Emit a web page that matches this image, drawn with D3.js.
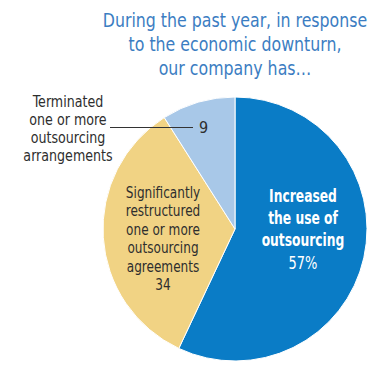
<!DOCTYPE html>
<html>
<head>
<meta charset="utf-8">
<script src="https://cdn.jsdelivr.net/npm/d3@7"></script>
<style>
  body { margin: 0; background: #fff; }
  svg text { font-family: "DejaVu Sans Condensed", "Liberation Sans Narrow", sans-serif; }
</style>
</head>
<body>
<div id="chart"></div>
<script>
// data
var categories = ["Increased the use of outsourcing", "Significantly restructured one or more outsourcing agreements", "Terminated one or more outsourcing arrangements"];
var values = [57, 34, 9];
var colors = ["#0a7cc6", "#f1d384", "#a8c8e8"];
var titleLines = ["During the past year, in response", "to the economic downturn,", "our company has\u2026"];

var width = 382, height = 366;
var cx = 235, cy = 229, radius = 132;

var svg = d3.select("#chart").append("svg")
    .attr("width", width)
    .attr("height", height);

// stacked centred lines, squeezed sideways to look like the condensed face
function textBlock(parent, lines, x, y0, dy, size, sx, fill, weight) {
    var blk = parent.append("g")
        .attr("transform", "translate(" + x + "," + y0 + ") scale(" + sx + ",1)");
    blk.selectAll("text")
        .data(lines)
        .enter().append("text")
        .attr("x", 0)
        .attr("y", function(d, i) { return i * dy; })
        .attr("text-anchor", "middle")
        .attr("fill", fill)
        .style("font-size", size + "px")
        .style("font-weight", weight || "normal")
        .text(function(d) { return d; });
    return blk;
}

// title
textBlock(svg, titleLines, 235, 27, 24, 19.5, 0.9, "#3b7dc2");

var pie = d3.pie().sort(null).value(function(d) { return d; });
var arc = d3.arc().innerRadius(0).outerRadius(radius);
var arcs = pie(values);

var g = svg.append("g")
    .attr("transform", "translate(" + cx + "," + cy + ")");

g.selectAll("path")
    .data(arcs)
    .enter().append("path")
    .attr("d", arc)
    .attr("fill", function(d, i) { return colors[i]; })
    .attr("stroke", "#fff")
    .attr("stroke-width", 1);

// label inside the big slice
textBlock(g, ["Increased", "the use of", "outsourcing"], 68, -27, 22, 18, 0.76, "#fff", "bold");
textBlock(g, [values[0] + "%"], 68, 40, 0, 17, 0.85, "#fff");

// label inside the yellow slice
textBlock(g, ["Significantly", "restructured", "one or more", "outsourcing", "agreements", String(values[1])],
    -72, -31, 18.5, 16, 0.84, "#2e2e2e");

// outside label for the small slice
textBlock(svg, ["Terminated", "one or more", "outsourcing", "arrangements"], 68, 107, 18, 16, 0.88, "#2e2e2e");

svg.append("line")
    .attr("x1", 110).attr("y1", 127.5)
    .attr("x2", 193).attr("y2", 127.5)
    .attr("stroke", "#333")
    .attr("stroke-width", 1);

svg.append("text")
    .attr("x", 199)
    .attr("y", 133)
    .attr("fill", "#2e2e2e")
    .style("font-size", "16px")
    .text(values[2]);
</script>
</body>
</html>
